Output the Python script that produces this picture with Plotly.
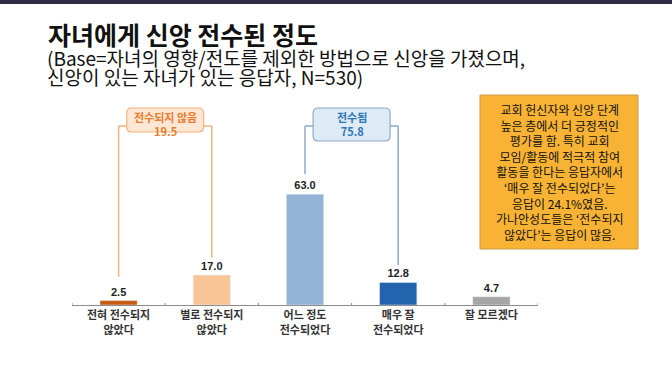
import plotly.graph_objects as go

# ---------------- data ----------------
categories = ["전혀 전수되지<br>않았다", "별로 전수되지<br>않았다", "어느 정도<br>전수되었다",
              "매우 잘<br>전수되었다", "잘 모르겠다"]
values = [2.5, 17.0, 63.0, 12.8, 4.7]
bar_colors = ["#C55A11", "#F9C598", "#95B3D7", "#2264AE", "#A6A6A6"]

group_labels = ["전수되지 않음", "전수됨"]
group_values = [19.5, 75.8]
group_members = [[0, 1], [2, 3]]
group_line_colors = ["#F2B27E", "#8EA9C9"]
group_fill_colors = ["#FCE6D4", "#DDEBF7"]
group_text_colors = ["#E87D2E", "#2E75B6"]

title = "자녀에게 신앙 전수된 정도"
subtitle_lines = ["(Base=자녀의 영향/전도를 제외한 방법으로 신앙을 가졌으며,",
                  "신앙이 있는 자녀가 있는 응답자, N=530)"]
note_lines = ["교회 헌신자와 신앙 단계", "높은 층에서 더 긍정적인", "평가를 함. 특히 교회",
              "모임/활동에 적극적 참여", "활동을 한다는 응답자에서", "‘매우 잘 전수되었다’는",
              "응답이 24.1%였음.", "가나안성도들은 ‘전수되지", "않았다’는 응답이 많음."]

# ---------------- layout constants ----------------
W, H = 672, 368
ML, MR, MT, MB = 72, 134, 100, 63
YMAX = 116.5
plot_w = W - ML - MR
plot_h = H - MT - MB
px_x = plot_w / len(categories)      # px per category unit
px_y = plot_h / YMAX                 # px per value unit

def py(p):  # pixel y -> data y
    return (H - MB - p) / px_y

def paper_x(p):
    return (p - ML) / plot_w

def paper_y(p):
    return (H - MB - p) / plot_h

KR = "Noto Sans CJK KR"

fig = go.Figure()
fig.add_trace(go.Bar(
    x=list(range(len(categories))), y=values, marker_color=bar_colors, width=0.40,
    text=[f"{v:.1f}" for v in values], textposition="outside",
    textfont=dict(family="Liberation Sans", size=11, color="#222222", weight="bold"),
    cliponaxis=False, hoverinfo="skip",
))

shapes = []
annotations = []

# top dark band
shapes.append(dict(type="rect", xref="paper", yref="paper",
                   x0=paper_x(0), x1=paper_x(W), y0=paper_y(4), y1=paper_y(-2),
                   fillcolor="#2D2B47", line_width=0, layer="above"))

# brackets
line_y = py(126)
box_top = py(108)
box_bottoms = [py(132), py(141)]
gaps = [13.5, 10.0, 11.4, 10.0]
half_w = 38.5 / px_x
rx, ry = 5 / px_x, 5 / px_y
k = 0
for gi, (lab, gv, mem) in enumerate(zip(group_labels, group_values, group_members)):
    xa, xb = mem
    xc = (xa + xb) / 2
    x0, x1 = xc - half_w, xc + half_w
    y0, y1 = box_bottoms[gi], box_top
    col = group_line_colors[gi]
    for xi in mem:
        shapes.append(dict(type="line", xref="x", yref="y", x0=xi, x1=xi,
                           y0=values[xi] + gaps[k], y1=line_y,
                           line=dict(color=col, width=1.5)))
        k += 1
    shapes.append(dict(type="line", xref="x", yref="y", x0=xa, x1=x0, y0=line_y, y1=line_y,
                       line=dict(color=col, width=1.5)))
    shapes.append(dict(type="line", xref="x", yref="y", x0=x1, x1=xb, y0=line_y, y1=line_y,
                       line=dict(color=col, width=1.5)))
    path = (f"M {x0+rx},{y1} L {x1-rx},{y1} Q {x1},{y1} {x1},{y1-ry} "
            f"L {x1},{y0+ry} Q {x1},{y0} {x1-rx},{y0} L {x0+rx},{y0} "
            f"Q {x0},{y0} {x0},{y0+ry} L {x0},{y1-ry} Q {x0},{y1} {x0+rx},{y1} Z")
    shapes.append(dict(type="path", xref="x", yref="y", path=path,
                       fillcolor=group_fill_colors[gi], line=dict(color=col, width=1.2)))
    annotations.append(dict(x=xc, y=py(124), xref="x", yref="y", showarrow=False,
                            xanchor="center", yanchor="middle",
                            text=f"{lab}<br>{gv:.1f}", align="center",
                            font=dict(family=KR, size=11, color=group_text_colors[gi], weight="bold")))

# note box
shapes.append(dict(type="rect", xref="paper", yref="paper",
                   x0=paper_x(480), x1=paper_x(638), y0=paper_y(249), y1=paper_y(95),
                   fillcolor="#F8B334", line=dict(color="#C99A45", width=1)))
annotations.append(dict(x=paper_x(559), y=paper_y(172), xref="paper", yref="paper",
                        xanchor="center", yanchor="middle",
                        showarrow=False, text="<br>".join(note_lines), align="center",
                        font=dict(family=KR, size=12, color="#111111")))

# titles
annotations.append(dict(x=paper_x(46), y=paper_y(14), xref="paper", yref="paper",
                        xanchor="left", yanchor="top", showarrow=False, text=title,
                        font=dict(family=KR, size=25, color="#111111", weight="bold")))
for i, line in enumerate(subtitle_lines):
    annotations.append(dict(x=paper_x(45), y=paper_y(42 + 19 * i), xref="paper", yref="paper",
                            xanchor="left", yanchor="top", showarrow=False, text=line,
                            align="left",
                            font=dict(family=KR, size=19, color="#111111")))

fig.update_layout(
    width=W, height=H, margin=dict(l=ML, r=MR, t=MT, b=MB, autoexpand=False),
    paper_bgcolor="white", plot_bgcolor="white", showlegend=False,
    annotations=annotations,
    xaxis=dict(range=[-0.5, len(categories) - 0.5], tickvals=list(range(len(categories))),
               ticktext=categories, showline=True, linecolor="#8C8C8C", linewidth=1,
               ticks="", showgrid=False, zeroline=False, automargin=False,
               tickfont=dict(family=KR, size=11, color="#333333", weight="bold"),
               fixedrange=True),
    yaxis=dict(range=[0, YMAX], visible=False, fixedrange=True),
)

# boundary tick marks on axis
for b in [i - 0.5 for i in range(len(categories) + 1)]:
    shapes.append(dict(type="line", xref="x", yref="y", x0=b, x1=b, y0=-2 / px_y, y1=2 / px_y,
                       line=dict(color="#8C8C8C", width=1)))
fig.update_layout(shapes=shapes)

fig.write_html("out.html", config={"displayModeBar": False},
               post_script="document.body.style.margin='0';document.body.style.overflow='hidden';")
